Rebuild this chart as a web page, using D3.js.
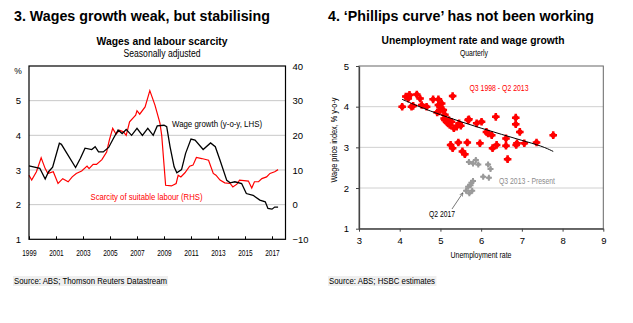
<!DOCTYPE html>
<html><head><meta charset="utf-8">
<script src="https://cdn.jsdelivr.net/npm/d3@7"></script>
<style>
body{margin:0;background:#fff;}
text{font-family:"Liberation Sans",Arial,sans-serif;}
</style></head>
<body><svg id="c" width="633" height="323"></svg>
<script>
// ---------- Left chart data ----------
const wageYears = [1999.0,1999.8,2000.2,2000.45,2000.75,2001.25,2001.4,2002.45,2002.8,2003.15,2003.65,2003.9,2004.15,2004.5,2004.9,2005.25,2005.6,2005.9,2006.2,2006.6,2007.0,2007.4,2007.8,2008.2,2008.5,2009.0,2009.2,2009.45,2009.75,2009.95,2010.3,2010.6,2011.0,2011.3,2011.9,2012.45,2012.8,2013.15,2013.65,2013.9,2014.25,2014.75,2015.1,2015.6,2016.1,2016.5,2016.7,2017.0,2017.2,2017.45];
const wageGrowth = [3.12,3.05,2.74,2.95,3.08,3.77,3.74,3.07,3.33,3.63,3.59,3.67,3.52,3.52,3.65,3.91,4.15,4.05,4.17,4.0,4.2,4.0,4.2,4.0,4.27,4.29,4.25,3.67,3.09,2.92,3.01,3.48,3.89,3.86,3.59,3.78,3.67,3.28,2.7,2.63,2.66,2.61,2.32,2.27,2.13,2.08,1.89,1.87,1.93,1.93];
const scarcityYears = [1999.0,1999.2,1999.55,1999.9,2000.2,2000.4,2000.8,2001.15,2001.5,2001.9,2002.2,2002.5,2002.9,2003.3,2003.45,2003.75,2004.0,2004.4,2004.75,2004.95,2005.2,2005.45,2005.7,2006.0,2006.2,2006.45,2006.9,2007.0,2007.2,2007.6,2007.95,2008.33,2008.7,2008.83,2009.12,2009.55,2009.9,2010.05,2010.25,2010.55,2010.9,2011.15,2011.4,2011.8,2012.3,2012.65,2012.85,2013.15,2013.5,2013.9,2014.1,2014.4,2014.6,2015.25,2015.5,2015.7,2016.0,2016.25,2016.6,2016.85,2017.2,2017.45];
const scarcity = [8.5,7.1,9.5,13.5,10.4,9.0,9.5,6.1,7.5,6.6,8.0,9.0,9.7,11.1,10.4,11.6,11.6,13.0,15.2,18.6,22.0,20.3,21.5,21.0,20.0,23.9,25.8,27.1,26.1,28.2,32.9,28.7,23.5,20.0,5.6,5.4,6.1,8.5,8.0,9.2,11.1,11.4,13.6,13.3,12.8,9.0,8.5,7.1,6.3,6.1,5.1,5.9,7.1,6.8,4.8,6.6,6.6,7.5,8.0,9.0,9.5,10.1];
const yearTicks = [1999,2001,2003,2005,2007,2009,2011,2013,2015,2017];
const lhsTicks = [1,2,3,4,5];
const rhsTicks = [-10,0,10,20,30,40];

// ---------- Right chart data ----------
const redUnemp = [4.06,4.15,4.21,4.24,4.21,4.29,4.33,4.42,4.5,4.54,4.66,4.82,4.95,4.99,5.03,4.92,4.97,5.07,5.11,5.11,5.15,5.19,5.23,5.27,5.3,5.33,5.4,5.46,5.5,5.25,5.3,5.44,5.54,5.6,5.66,5.68,5.89,6.01,5.97,6.13,6.17,6.26,6.28,6.38,6.36,6.61,6.61,6.65,6.85,6.85,6.86,6.88,6.95,7.06,7.36,7.77,5.09,5.21,4.95,5.7];
const redWage = [4.0,4.25,4.25,4.29,4.2,4.0,4.02,4.3,4.2,4.04,4.0,4.18,4.18,4.0,4.08,3.86,3.88,3.92,3.8,3.67,3.63,3.59,3.55,3.63,4.26,3.47,3.51,3.59,3.53,3.06,2.98,3.12,2.9,2.83,3.12,3.67,3.59,3.63,3.1,3.38,3.34,3.3,2.98,3.06,3.75,3.22,3.04,2.71,3.73,3.57,3.06,3.1,3.38,3.1,3.12,3.3,3.71,3.67,4.04,3.69];
const greyUnemp = [5.7,5.8,5.87,5.93,6.17,6.23,6.05,6.19,5.8,5.74,5.68,5.63,5.71,5.78,5.76];
const greyWage = [2.64,2.6,2.69,2.58,2.58,2.47,2.28,2.25,2.17,2.07,2.03,1.93,1.87,1.93,2.13];
const trendU = [4.06,4.5,5.0,5.5,6.0,6.5,7.0,7.5,7.77];
const trendW = [4.18,3.99,3.8,3.63,3.47,3.32,3.17,3.03,2.9];
const uTicks = [3,4,5,6,7,8,9];
const wTicks = [1,2,3,4,5];

const svg = d3.select("#c");
const RED = "#ff0000";
const fmtD = d3.format("d");

// text helper: size for height, textLength for (condensed) width
function txt(parent,x,y,s,size,width,opts={}){
  const t = parent.append("text").attr("x",x).attr("y",y).attr("font-size",size)
    .attr("text-anchor",opts.anchor||"start").attr("fill",opts.fill||"#000").text(s);
  if(opts.bold) t.attr("font-weight","bold");
  if(width) t.attr("textLength",width).attr("lengthAdjust","spacingAndGlyphs");
  if(opts.transform) t.attr("transform",opts.transform);
  return t;
}

// ===== Headings =====
txt(svg,14,21,"3. Wages growth weak, but stabilising",15,256,{bold:true});
txt(svg,328,21,"4. \u2018Phillips curve\u2019 has not been working",15,266,{bold:true});

// ===== Left chart =====
const L = {l:29, r:285.5, t:66, b:239.3};
const xL = d3.scaleLinear().domain([1999,2018]).range([L.l,L.r]);
const yL = d3.scaleLinear().domain([1,6]).range([L.b,L.t]);
const yR = d3.scaleLinear().domain([-10,40]).range([L.b,L.t]);

txt(svg,162,45,"Wages and labour scarcity",11.5,131,{anchor:"middle",bold:true});
txt(svg,162,57,"Seasonally adjusted",10,77,{anchor:"middle"});

const gL = svg.append("g");
gL.selectAll("line.grid").data(lhsTicks.filter(d=>d>1)).join("line")
  .attr("x1",L.l).attr("x2",L.r).attr("y1",d=>yL(d)).attr("y2",d=>yL(d))
  .attr("stroke","#c8c8c8").attr("stroke-width",1);

gL.append("path").datum(scarcityYears.map((y,i)=>[y,scarcity[i]]))
  .attr("fill","none").attr("stroke",RED).attr("stroke-width",1.2)
  .attr("d",d3.line().x(d=>xL(d[0])).y(d=>yR(d[1])));
gL.append("path").datum(wageYears.map((y,i)=>[y,wageGrowth[i]]))
  .attr("fill","none").attr("stroke","#000").attr("stroke-width",1.3)
  .attr("d",d3.line().x(d=>xL(d[0])).y(d=>yL(d[1])));

gL.append("rect").attr("x",L.l).attr("y",L.t).attr("width",L.r-L.l).attr("height",L.b-L.t)
  .attr("fill","none").attr("stroke","#000").attr("stroke-width",1.2);

const axXL = d3.axisBottom(xL).tickValues(yearTicks).tickFormat(fmtD).tickSizeInner(-3).tickSizeOuter(0).tickPadding(10);
const gx = gL.append("g").attr("transform",`translate(0,${L.b})`).call(axXL);
gx.select(".domain").remove();
gx.selectAll("text").attr("font-size",9.5).attr("fill","#000").attr("textLength",14.5).attr("lengthAdjust","spacingAndGlyphs");
gx.selectAll("line").attr("stroke","#000");

const axYL = d3.axisLeft(yL).tickValues(lhsTicks).tickFormat(fmtD).tickSize(0).tickPadding(8);
const gy = gL.append("g").attr("transform",`translate(${L.l},0)`).call(axYL);
gy.select(".domain").remove();
gy.selectAll("text").attr("font-size",9.5).attr("fill","#000");
txt(gL,18,74,"%",8.5,null,{anchor:"middle"});

const axYR = d3.axisRight(yR).tickValues(rhsTicks).tickFormat(fmtD).tickSize(0).tickPadding(7);
const gyr = gL.append("g").attr("transform",`translate(${L.r},0)`).call(axYR);
gyr.select(".domain").remove();
gyr.selectAll("text").attr("font-size",9.5).attr("fill","#000").each(function(d){
  const w = String(d).length*5.3; d3.select(this).attr("textLength",w).attr("lengthAdjust","spacingAndGlyphs");});

txt(gL,217,127,"Wage growth (y-o-y, LHS)",9.5,90,{anchor:"middle"});
txt(gL,146.5,199.5,"Scarcity of suitable labour (RHS)",9.5,112,{anchor:"middle",fill:RED});

function source(x,y,s,w){
  const t = txt(svg,x,y,s,9,w);
  const bb = t.node().getBBox();
  svg.insert("rect","text").attr("x",bb.x-1).attr("y",bb.y).attr("width",bb.width+2).attr("height",bb.height).attr("fill","#efefef");
}
source(14,284,"Source: ABS; Thomson Reuters Datastream",153);
source(329,284,"Source: ABS; HSBC estimates",106);

// ===== Right chart =====
const R = {l:359, r:603.3, t:66, b:228.7};
const xS = d3.scaleLinear().domain([3,9]).range([R.l,R.r]);
const yS = d3.scaleLinear().domain([1,5]).range([R.b,R.t]);

txt(svg,473,44,"Unemployment rate and wage growth",11.5,183,{anchor:"middle",bold:true});
txt(svg,474,56,"Quarterly",8.5,28,{anchor:"middle"});

const gR = svg.append("g");
gR.selectAll("line.grid").data([2,3,4]).join("line")
  .attr("x1",R.l).attr("x2",R.r).attr("y1",d=>yS(d)).attr("y2",d=>yS(d))
  .attr("stroke","#d0d0d0").attr("stroke-width",1);
gR.append("rect").attr("x",R.l).attr("y",R.t).attr("width",R.r-R.l).attr("height",R.b-R.t)
  .attr("fill","none").attr("stroke","#666").attr("stroke-width",1);

const axXS = d3.axisBottom(xS).tickValues(uTicks).tickFormat(fmtD).tickSizeInner(3).tickSizeOuter(0).tickPadding(6);
const gxs = gR.append("g").attr("transform",`translate(0,${R.b})`).call(axXS);
gxs.select(".domain").attr("stroke","#444").attr("stroke-width",1.3);
gxs.selectAll("line").attr("stroke","#444");
gxs.selectAll("text").attr("font-size",9.5).attr("fill","#000");
const axYS = d3.axisLeft(yS).tickValues(wTicks).tickFormat(fmtD).tickSizeInner(3).tickSizeOuter(0).tickPadding(7);
const gys = gR.append("g").attr("transform",`translate(${R.l},0)`).call(axYS);
gys.select(".domain").attr("stroke","#444").attr("stroke-width",1.3);
gys.selectAll("line").attr("stroke","#444");
gys.selectAll("text").attr("font-size",9.5).attr("fill","#000");

txt(gR,481,258,"Unemployment rate",8.5,61,{anchor:"middle"});
txt(gR,0,0,"Wage price index, % y-o-y",8.5,85,{anchor:"middle",transform:"translate(337,140) rotate(-90)"});

const redPts = redUnemp.map((u,i)=>[u,redWage[i]]);
gR.selectAll("path.redc").data(redPts).join("path")
  .attr("transform",d=>`translate(${xS(d[0])},${yS(d[1])})`)
  .attr("d",d3.symbol().type(d3.symbolCross).size(32)()).attr("fill",RED);
gR.selectAll("circle.red").data(redPts).join("circle")
  .attr("cx",d=>xS(d[0])).attr("cy",d=>yS(d[1])).attr("r",2.6).attr("fill",RED);
const greyPts = greyUnemp.map((u,i)=>[u,greyWage[i]]);
gR.selectAll("path.grey").data(greyPts).join("path")
  .attr("transform",d=>`translate(${xS(d[0])},${yS(d[1])})`)
  .attr("d",d3.symbol().type(d3.symbolCross).size(20)()).attr("fill","#9a9a9a");
gR.selectAll("circle.grey").data(greyPts).join("circle")
  .attr("cx",d=>xS(d[0])).attr("cy",d=>yS(d[1])).attr("r",1.9).attr("fill","#9a9a9a");

gR.append("path").datum(trendU.map((u,i)=>[u,trendW[i]]))
  .attr("fill","none").attr("stroke","#000").attr("stroke-width",1)
  .attr("d",d3.line().curve(d3.curveBasis).x(d=>xS(d[0])).y(d=>yS(d[1])));

txt(gR,499,91,"Q3 1998 - Q2 2013",8.5,59,{anchor:"middle",fill:RED});
txt(gR,527,184,"Q3 2013 - Present",8.5,56,{anchor:"middle",fill:"#8c8c8c"});
txt(gR,442,217,"Q2 2017",8.5,26,{anchor:"middle"});
svg.append("defs").append("marker").attr("id","ah").attr("viewBox","0 0 10 10").attr("refX",9).attr("refY",5)
  .attr("markerWidth",5).attr("markerHeight",5).attr("orient","auto")
  .append("path").attr("d","M0,1 L10,5 L0,9").attr("fill","none").attr("stroke","#555").attr("stroke-width",1.5);
gR.append("line").attr("x1",452).attr("y1",209).attr("x2",xS(5.6)-2).attr("y2",yS(1.93)+2)
  .attr("stroke","#555").attr("stroke-width",0.8).attr("marker-end","url(#ah)");
</script></body></html>
